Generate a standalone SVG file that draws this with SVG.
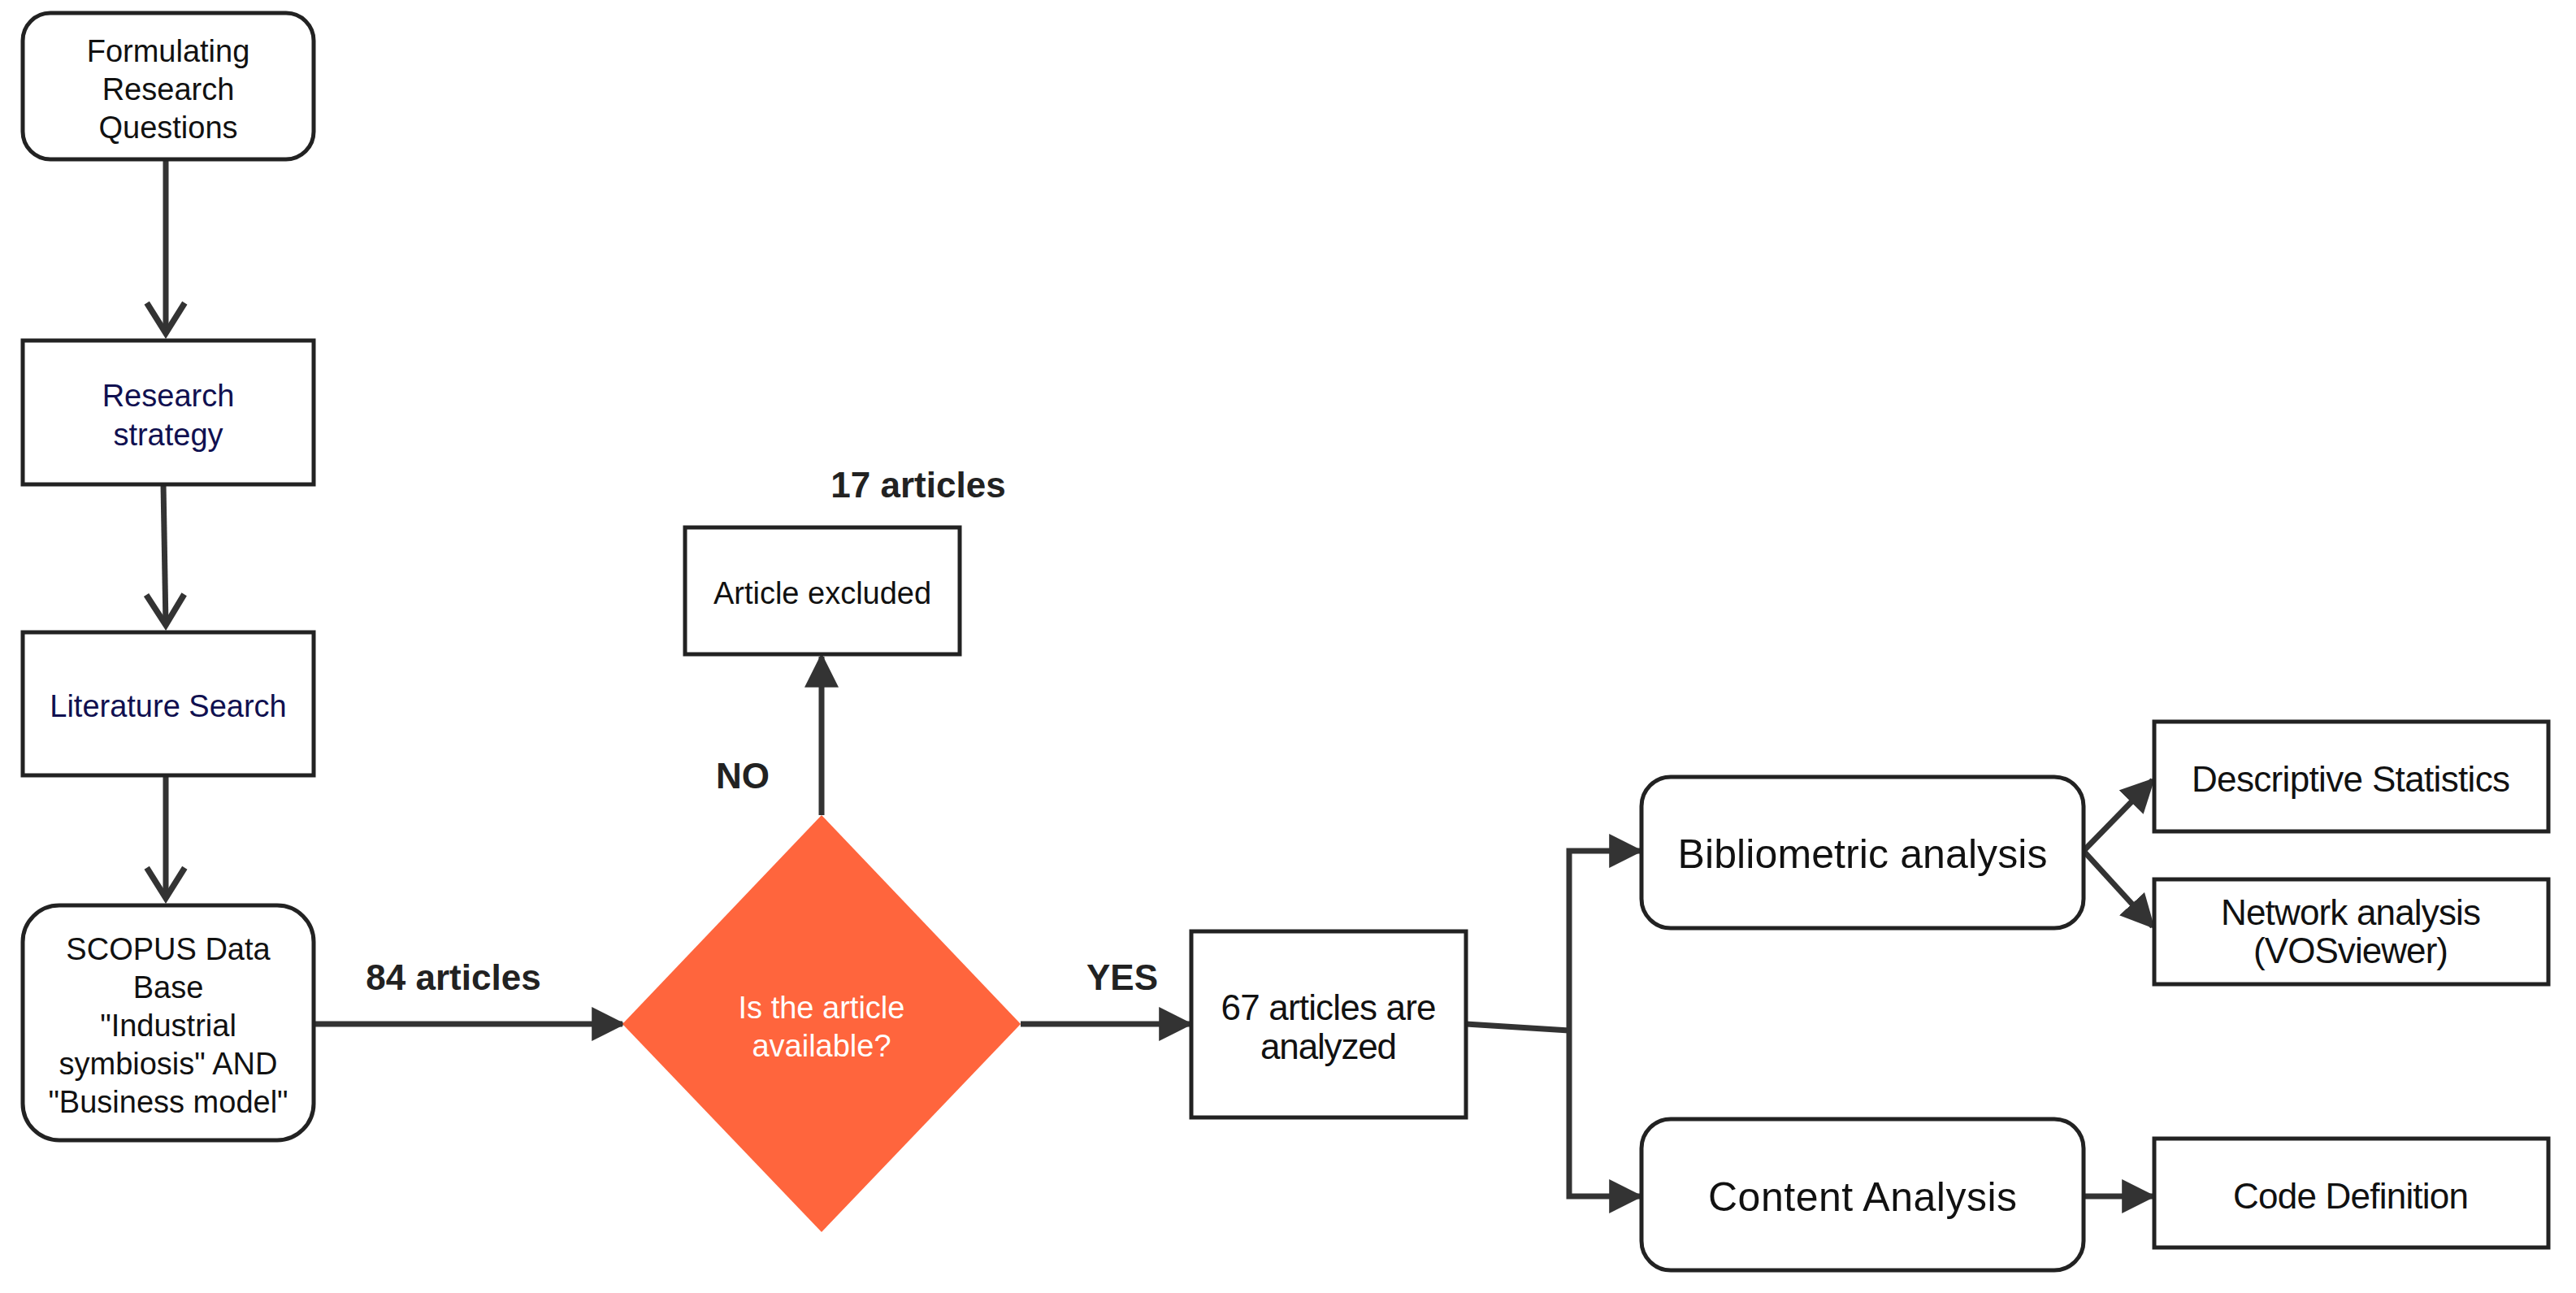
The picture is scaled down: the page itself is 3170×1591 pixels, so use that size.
<svg xmlns="http://www.w3.org/2000/svg" width="3170" height="1591" viewBox="0 0 3170 1591">
<defs>
<marker id="tri" viewBox="0 0 10 10" refX="9" refY="5" markerWidth="6" markerHeight="6" markerUnits="strokeWidth" orient="auto"><path d="M0,0L10,5L0,10z" fill="#333"/></marker>
<marker id="chev" viewBox="0 0 12 12" refX="10" refY="6" markerWidth="8" markerHeight="8" markerUnits="strokeWidth" orient="auto"><path d="M2,1L10,6L2,11" fill="none" stroke="#333" stroke-width="1.6"/></marker>
</defs>
<style>
.b{fill:#fff;stroke:#222;stroke-width:5}
.t{font-family:"Liberation Sans",Arial,sans-serif;font-size:38px;fill:#111;text-anchor:middle}
.n{font-family:"Liberation Sans",Arial,sans-serif;font-size:44px;fill:#111;text-anchor:middle}
.lb{font-family:"Liberation Sans",Arial,sans-serif;font-size:44px;font-weight:bold;fill:#222;text-anchor:middle}
.c{stroke:#333;stroke-width:7;fill:none}
</style>
<rect width="3170" height="1591" fill="#fff"/>
<g id="connectors">
<path class="c" d="M204,196V410" marker-end="url(#chev)"/>
<path class="c" d="M201,596L204,769" marker-end="url(#chev)"/>
<path class="c" d="M204,954V1105" marker-end="url(#chev)"/>
<path class="c" d="M386,1260H766" marker-end="url(#tri)"/>
<path class="c" d="M1011,1003V808" marker-end="url(#tri)"/>
<path class="c" d="M1256,1260H1464" marker-end="url(#tri)"/>
<path class="c" d="M1804,1260L1931,1268"/>
<path class="c" d="M1931,1268V1047H2018" marker-end="url(#tri)"/>
<path class="c" d="M1931,1268V1472H2018" marker-end="url(#tri)"/>
<path class="c" d="M2564,1047L2649,960" marker-end="url(#tri)"/>
<path class="c" d="M2564,1047L2649,1140" marker-end="url(#tri)"/>
<path class="c" d="M2564,1472H2649" marker-end="url(#tri)"/>
</g>
<g id="n1"><rect class="b" x="28" y="16" width="358" height="180" rx="34"/><text class="t" x="207" y="76">Formulating</text><text class="t" x="207" y="123">Research</text><text class="t" x="207" y="170">Questions</text></g>
<g id="n2"><rect class="b" x="28" y="419" width="358" height="177"/><text class="t" x="207" y="500" fill="#101050" style="fill:#101050">Research</text><text class="t" x="207" y="548" style="fill:#101050">strategy</text></g>
<g id="n3"><rect class="b" x="28" y="778" width="358" height="176"/><text class="t" x="207" y="882" style="fill:#101050">Literature Search</text></g>
<g id="n4"><rect class="b" x="28" y="1114" width="358" height="289" rx="45"/><text class="t" x="207" y="1181">SCOPUS Data</text><text class="t" x="207" y="1228">Base</text><text class="t" x="207" y="1275">"Industrial</text><text class="t" x="207" y="1322">symbiosis" AND</text><text class="t" x="207" y="1369">"Business model"</text></g>
<g id="n5"><path d="M1011,1003L1256,1260L1011,1516L766,1260Z" fill="#ff653d"/><text class="t" x="1011" y="1253" style="fill:#fff">Is the article</text><text class="t" x="1011" y="1300" style="fill:#fff">available?</text></g>
<g id="n6"><rect class="b" x="843" y="649" width="338" height="156"/><text class="t" x="1012" y="743">Article excluded</text></g>
<g id="n7"><rect class="b" x="1466" y="1146" width="338" height="229"/><text class="n" x="1635" y="1255" textLength="265">67 articles are</text><text class="n" x="1635" y="1303" textLength="168">analyzed</text></g>
<g id="n8"><rect class="b" x="2020" y="956" width="544" height="186" rx="36"/><text class="n" x="2292" y="1068" font-size="50" style="font-size:50px" textLength="455">Bibliometric analysis</text></g>
<g id="n9"><rect class="b" x="2020" y="1377" width="544" height="186" rx="36"/><text class="n" x="2292" y="1490" style="font-size:50px" textLength="380">Content Analysis</text></g>
<g id="n10"><rect class="b" x="2651" y="888" width="485" height="135"/><text class="n" x="2893" y="974" textLength="392">Descriptive Statistics</text></g>
<g id="n11"><rect class="b" x="2651" y="1082" width="485" height="129"/><text class="n" x="2893" y="1138" textLength="320">Network analysis</text><text class="n" x="2893" y="1185" textLength="240">(VOSviewer)</text></g>
<g id="n12"><rect class="b" x="2651" y="1401" width="485" height="134"/><text class="n" x="2893" y="1487" textLength="290">Code Definition</text></g>
<g id="labels">
<text class="lb" x="1130" y="612">17 articles</text>
<text class="lb" x="914" y="970">NO</text>
<text class="lb" x="558" y="1218">84 articles</text>
<text class="lb" x="1381" y="1218">YES</text>
</g>
</svg>
